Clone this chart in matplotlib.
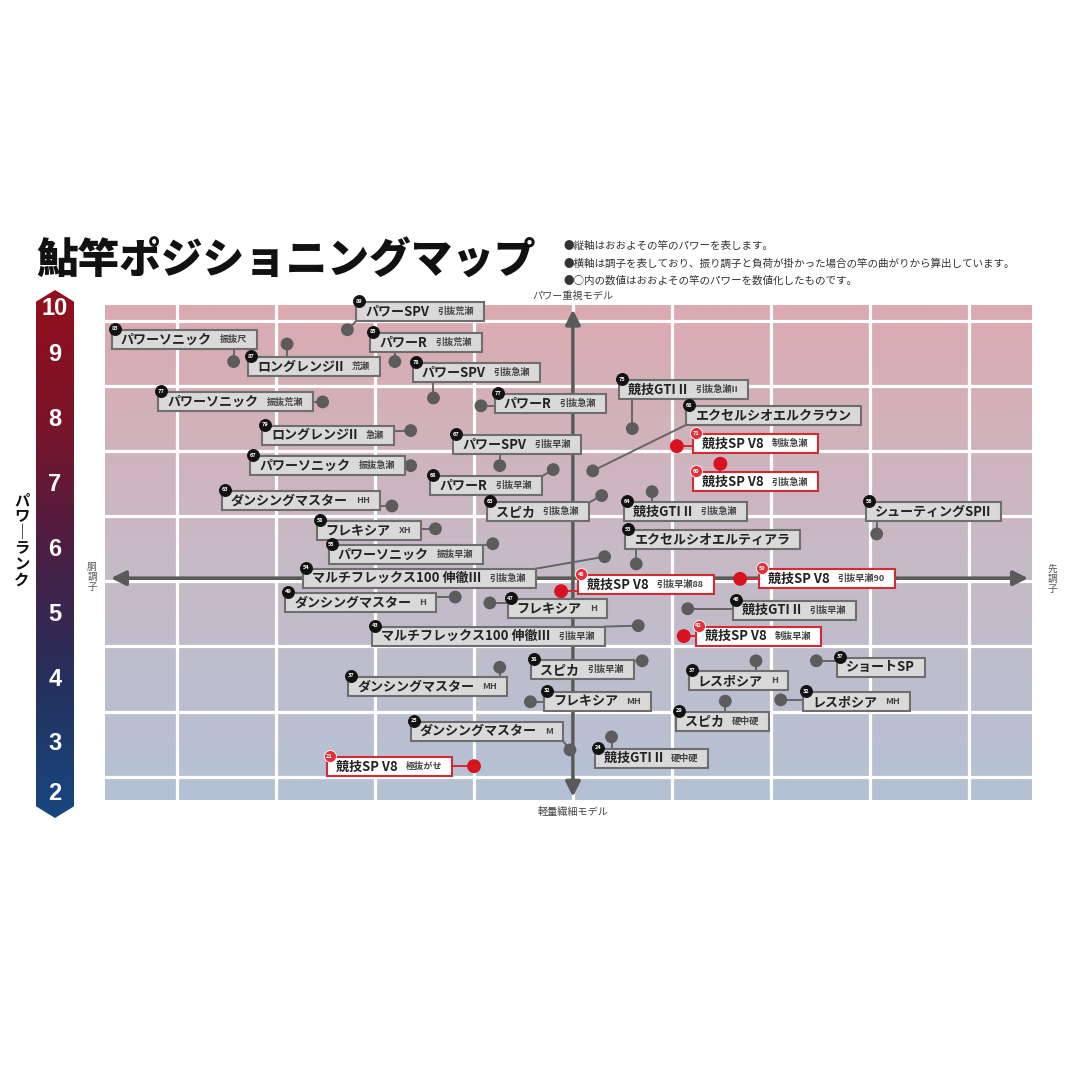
import numpy as np
import matplotlib
matplotlib.use("Agg")
import matplotlib.pyplot as plt
from matplotlib.colors import LinearSegmentedColormap
from matplotlib.patches import Rectangle, Polygon
from matplotlib.transforms import Bbox

plt.rcParams['font.family'] = ['Noto Sans CJK JP', 'DejaVu Sans']

# --- data: rods (x = 調子, y = パワーランク) ---
names = [
    "パワーSPV", "パワーソニック", "パワーR", "ロングレンジII", "パワーSPV",
    "パワーソニック", "パワーR", "競技GTI II", "ロングレンジII", "エクセルシオエルクラウン",
    "競技SP V8", "パワーSPV", "パワーソニック", "競技SP V8", "パワーR",
    "ダンシングマスター", "スピカ", "競技GTI II", "シューティングSPII", "フレキシア",
    "エクセルシオエルティアラ", "パワーソニック", "マルチフレックス100 伸徹III", "競技SP V8", "競技SP V8",
    "ダンシングマスター", "フレキシア", "競技GTI II", "マルチフレックス100 伸徹III", "競技SP V8",
    "スピカ", "ダンシングマスター", "レスポシア", "ショートSP", "フレキシア",
    "レスポシア", "スピカ", "ダンシングマスター", "競技GTI II", "競技SP V8",
]
subs = [
    "引抜荒瀬", "振抜尺", "引抜荒瀬", "荒瀬", "引抜急瀬",
    "振抜荒瀬", "引抜急瀬", "引抜急瀬II", "急瀬", "",
    "制抜急瀬", "引抜早瀬", "振抜急瀬", "引抜急瀬", "引抜早瀬",
    "HH", "引抜急瀬", "引抜急瀬", "", "XH",
    "", "振抜早瀬", "引抜急瀬", "引抜早瀬88", "引抜早瀬90",
    "H", "H", "引抜早瀬", "引抜早瀬", "制抜早瀬",
    "引抜早瀬", "MH", "H", "", "MH",
    "MH", "硬中硬", "M", "硬中硬", "極抜がせ",
]
power = [89, 83, 85, 87, 78, 77, 77, 75, 79, 68,
         71, 67, 67, 60, 68, 63, 63, 64, 56, 58,
         53, 55, 54, 48, 50, 49, 47, 46, 43, 42,
         38, 37, 37, 37, 32, 32, 29, 25, 24, 21]
action = [-2.28, -3.43, -1.80, -2.89, -1.41, -2.53, -0.93, 0.60, -1.64, 0.20,
          1.05, -0.74, -1.64, 1.49, -0.20, -1.83, 0.29, 0.80, 3.07, -1.39,
          0.64, -0.81, 0.32, -0.12, 1.69, -1.19, -0.84, 1.16, 0.66, 1.12,
          0.70, -0.74, 1.85, 2.46, -0.43, 2.10, 1.54, -0.03, 0.39, -1.00]
rank = [9.37, 8.88, 8.88, 9.15, 8.32, 8.26, 8.20, 7.85, 7.82, 7.20,
        7.58, 7.28, 7.28, 7.31, 7.22, 6.66, 6.82, 6.88, 6.23, 6.31,
        5.77, 6.08, 5.88, 5.35, 5.54, 5.26, 5.17, 5.08, 4.82, 4.66,
        4.28, 4.18, 4.28, 4.28, 3.65, 3.68, 3.66, 2.91, 3.11, 2.66]
highlight = "競技SP V8"
rank_ticks = [10, 9, 8, 7, 6, 5, 4, 3, 2]

# --- layout: label box anchors (left edge, centre) in map coords ---
label_pos = [(-2.19, 9.65), (-4.66, 9.22), (-2.05, 9.18), (-3.28, 8.80), (-1.62, 8.71),
             (-4.19, 8.26), (-0.79, 8.23), (0.47, 8.45), (-3.14, 7.75), (1.14, 8.05),
             (1.21, 7.62), (-1.21, 7.60), (-3.26, 7.28), (1.21, 7.03), (-1.44, 6.97),
             (-3.55, 6.75), (-0.87, 6.57), (0.52, 6.57), (2.96, 6.57), (-2.59, 6.28),
             (0.53, 6.14), (-2.47, 5.91), (-2.73, 5.55), (0.05, 5.45), (1.88, 5.54),
             (-2.91, 5.18), (-0.66, 5.08), (1.62, 5.06), (-2.03, 4.66), (1.24, 4.66),
             (-0.42, 4.14), (-2.27, 3.89), (1.17, 3.97), (2.67, 4.18), (-0.29, 3.66),
             (2.33, 3.65), (1.04, 3.35), (-1.64, 3.20), (0.22, 2.78), (-2.49, 2.65)]

W = H = 1080
fig = plt.figure(figsize=(10.8, 10.8), dpi=100)
fig.patch.set_facecolor("white")


def px_rect(l, t, r, b):
    return [l / W, 1 - b / H, (r - l) / W, (b - t) / H]


def fxy(x, y):
    return x / W, 1 - y / H


# --- main map ---
ax = fig.add_axes(px_rect(105, 305, 1032, 800))
XLIM, YLIM = (-4.73, 4.64), (2.14, 9.75)
ax.set_xlim(*XLIM)
ax.set_ylim(*YLIM)
ax.axis("off")

bg = LinearSegmentedColormap.from_list("bg", ["#b4c2d5", "#c7bac6", "#dcaab0"])
ax.imshow(np.linspace(0, 1, 256).reshape(-1, 1), cmap=bg, origin="lower",
          extent=(*XLIM, *YLIM), aspect="auto", zorder=0)
for gx in [-4, -3, -2, -1, 0, 1, 2, 3, 4]:
    ax.axvline(gx, color="white", lw=2.3, zorder=1)
for gy in np.arange(2.5, 10, 1.0):
    ax.axhline(gy, color="white", lw=2.3, zorder=1)

arrow_kw = dict(arrowstyle="<|-|>", color="#5a5a5a", lw=2.6, mutation_scale=22,
                shrinkA=0, shrinkB=0)
ax.annotate("", xy=(0, 9.68), xytext=(0, 2.19), arrowprops=arrow_kw, zorder=2)
ax.annotate("", xy=(4.60, 5.55), xytext=(-4.67, 5.55), arrowprops=arrow_kw, zorder=2)

red = [n == highlight for n in names]
dot_colors = ["#d9121f" if r else "#5c5c5c" for r in red]
ax.scatter(action, rank, s=[100 if r else 85 for r in red], c=dot_colors,
           zorder=4, linewidths=0, clip_on=False)

name_txt, sub_txt = [], []
for i, (lx, ly) in enumerate(label_pos):
    t1 = ax.annotate(names[i], xy=(lx, ly), xytext=(9, 0), textcoords="offset pixels",
                     ha="left", va="center", fontsize=9.4, fontweight="bold",
                     color="#222222", zorder=6, annotation_clip=False)
    t2 = None
    if subs[i]:
        t2 = ax.annotate(subs[i], xy=(1, 0.5), xycoords=t1, xytext=(8, 0),
                         textcoords="offset pixels", ha="left", va="center",
                         fontsize=6.6, fontweight="bold", color="#444444", zorder=6,
                         annotation_clip=False)
    name_txt.append(t1)
    sub_txt.append(t2)

fig.canvas.draw()
renderer = fig.canvas.get_renderer()
to_data = ax.transData.inverted()
BOX_H = 19
for i, (lx, ly) in enumerate(label_pos):
    bb = name_txt[i].get_window_extent(renderer)
    if sub_txt[i] is not None:
        bb = Bbox.union([bb, sub_txt[i].get_window_extent(renderer)])
    ax_x, ax_y = ax.transData.transform((lx, ly))
    left, right = ax_x, bb.x1 + 10
    bottom, top = ax_y - BOX_H / 2, ax_y + BOX_H / 2
    (x0, y0), (x1, y1) = to_data.transform([(left, bottom), (right, top)])
    if red[i]:
        face, edge, circ, line_c = "white", "#d42a33", "#e0323c", "#d42a33"
    else:
        face, edge, circ, line_c = "#d9d9d9", "#6e6e6e", "#111111", "#666666"
    ax.add_patch(Rectangle((x0, y0), x1 - x0, y1 - y0, facecolor=face,
                           edgecolor=edge, lw=1.5, zorder=5, clip_on=False))
    # leader from dot to nearest point of the box
    dx, dy = ax.transData.transform((action[i], rank[i]))
    nx, ny = to_data.transform((np.clip(dx, left, right), np.clip(dy, bottom, top)))
    ax.plot([action[i], nx], [rank[i], ny], color=line_c, lw=1.4, zorder=3,
            clip_on=False)
    # power number badge
    cx, cy = to_data.transform((left + 3, top + 1))
    ax.scatter([cx], [cy], s=75, c=circ, edgecolors="white" if red[i] else circ,
               linewidths=0.6, zorder=7, clip_on=False)
    ax.text(cx, cy, str(power[i]), ha="center", va="center", fontsize=4,
            color="white", fontweight="bold", zorder=8, clip_on=False)

# --- power rank bar ---
bar = fig.add_axes(px_rect(36, 290, 74, 818))
BY = (1.86, 9.99)
bar.set_xlim(0, 1)
bar.set_ylim(*BY)
bar.axis("off")
bar_cmap = LinearSegmentedColormap.from_list(
    "bar", ["#17477f", "#24315f", "#4a1f45", "#7a1428", "#93101d"])
img = bar.imshow(np.linspace(0, 1, 256).reshape(-1, 1), cmap=bar_cmap, origin="lower",
                 extent=(0, 1, *BY), aspect="auto")
hexagon = Polygon([(0.5, BY[1]), (1, BY[1] - 0.18), (1, BY[0] + 0.18), (0.5, BY[0]),
                   (0, BY[0] + 0.18), (0, BY[1] - 0.18)], closed=True,
                  transform=bar.transData, facecolor="none", edgecolor="none")
bar.add_patch(hexagon)
img.set_clip_path(hexagon)
for r in rank_ticks:
    bar.text(0.5, min(max(r, 2.23), 9.71), str(r), ha="center", va="center",
             fontsize=17, fontweight="bold", color="white", family="Liberation Sans")

# --- titles and notes ---
fig.text(*fxy(36, 262), "鮎竿ポジショニングマップ", ha="left", va="center",
         fontsize=30, fontweight="heavy", color="#111111")
notes = ["●縦軸はおおよその竿のパワーを表します。",
         "●横軸は調子を表しており、振り調子と負荷が掛かった場合の竿の曲がりから算出しています。",
         "●○内の数値はおおよその竿のパワーを数値化したものです。"]
for k, note in enumerate(notes):
    fig.text(*fxy(563, 246 + 17.5 * k), note, ha="left", va="center",
             fontsize=7.6, color="#333333")

fig.text(*fxy(573, 296), "パワー重視モデル", ha="center", va="center",
         fontsize=7.3, color="#444444")
fig.text(*fxy(573, 812), "軽量繊細モデル", ha="center", va="center",
         fontsize=7.3, color="#444444")
fig.text(*fxy(92, 577), "胴\n調\n子", ha="center", va="center",
         fontsize=7, color="#555555", linespacing=1.05)
fig.text(*fxy(1052, 579), "先\n調\n子", ha="center", va="center",
         fontsize=7, color="#555555", linespacing=1.05)
fig.text(*fxy(22, 540), "パ\nワ\n｜\nラ\nン\nク", ha="center", va="center",
         fontsize=11, fontweight="bold", color="#111111", linespacing=1.0)

fig.savefig("out.png", dpi=100, facecolor="white")
